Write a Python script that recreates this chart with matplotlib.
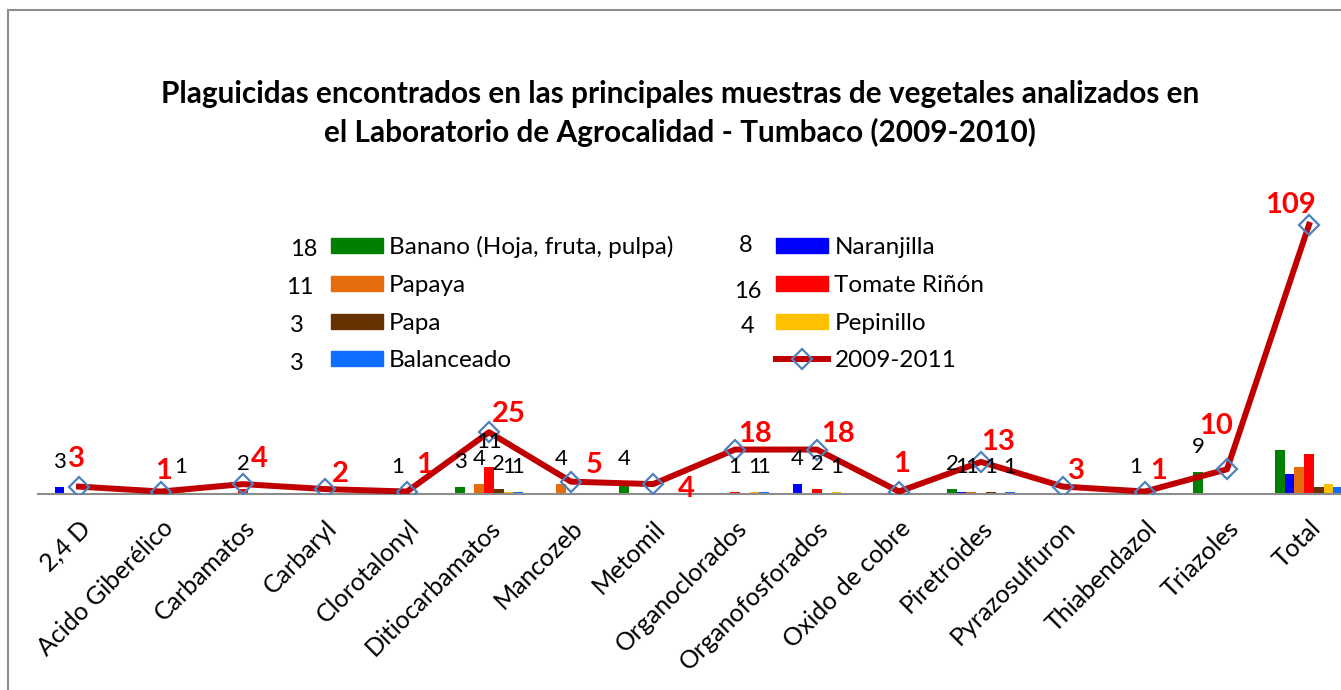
import numpy as np
import matplotlib
matplotlib.use("Agg")
import matplotlib.pyplot as plt
from matplotlib.lines import Line2D
from matplotlib.patches import Patch

plt.rcParams['font.family'] = ['Lato', 'DejaVu Sans']

# =========================
# DATA
# =========================
categorias = ["2,4 D", "Acido Giberélico", "Carbamatos", "Carbaryl", "Clorotalonyl",
              "Ditiocarbamatos", "Mancozeb", "Metomil", "Organoclorados",
              "Organofosforados", "Oxido de cobre", "Piretroides", "Pyrazosulfuron",
              "Thiabendazol", "Triazoles", "Total"]

banano     = [0, 0, 0, 0, 0, 3, 0, 4, 0, 0, 0, 2, 0, 0, 9, 18]
naranjilla = [3, 0, 0, 0, 0, 0, 0, 0, 0, 4, 0, 1, 0, 0, 0, 8]
papaya     = [0, 0, 0, 0, 1, 4, 4, 0, 0, 0, 0, 1, 0, 1, 0, 11]
tomate     = [0, 0, 2, 0, 0, 11, 0, 0, 1, 2, 0, 0, 0, 0, 0, 16]
papa       = [0, 0, 0, 0, 0, 2, 0, 0, 0, 0, 0, 1, 0, 0, 0, 3]
pepinillo  = [0, 1, 0, 0, 0, 1, 0, 0, 1, 1, 0, 0, 0, 0, 0, 4]
balanceado = [0, 0, 0, 0, 0, 1, 0, 0, 1, 0, 0, 1, 0, 0, 0, 3]
serie_2009_2011 = [3, 1, 4, 2, 1, 25, 5, 4, 18, 18, 1, 13, 3, 1, 10, 109]

nombres = ["Banano (Hoja, fruta, pulpa)", "Naranjilla", "Papaya", "Tomate Riñón",
           "Papa", "Pepinillo", "Balanceado"]
series = [banano, naranjilla, papaya, tomate, papa, pepinillo, balanceado]
colores = ["#008000", "#0000FF", "#E46C0A", "#FF0000", "#663300", "#FFC000", "#0F6EFF"]

# stray numbers shown beside the legend entries
legend_counts = {"Banano (Hoja, fruta, pulpa)": 18, "Papaya": 11, "Papa": 3,
                 "Balanceado": 3, "Naranjilla": 8, "Tomate Riñón": 16, "Pepinillo": 4}

# label offsets for the red line labels (points)
red_offsets = [(-1.5, 20), (1.5, 15), (11.5, 18), (11, 11), (13, 19), (14.5, 13),
               (16.5, 12), (24, -3.5), (14.5, 11), (15, 11), (2, 19.5), (12, 14.5),
               (10, 11.5), (9.5, 14.5), (-8, 31), (-13.5, 14.5)]

# =========================
# FIGURE
# =========================
W, H = 1341, 690
fig = plt.figure(figsize=(W/100, H/100), dpi=100)
ax = fig.add_axes([38/W, (H-494)/H, 1312/W, 296.4/H])

x = np.arange(len(categorias))
bw = 0.118
n = len(series)
for i, (vals, col, nom) in enumerate(zip(series, colores, nombres)):
    xs = x + (i - (n-1)/2) * bw
    ax.bar(xs, vals, width=bw, color=col, label=nom, zorder=2)
    for xi, v, cat in zip(xs, vals, categorias):
        if v > 0 and cat != "Total":
            ax.annotate(str(v), (xi, v), xytext=(0, 18), textcoords="offset points",
                        ha="center", va="center", fontsize=16, color="black", zorder=5)

ax.plot(x, serie_2009_2011, color="#C00000", lw=4.3, marker="D", ms=10,
        mfc="none", mec="#4F81BD", mew=1.6, label="2009-2011", zorder=3)
for xi, v, off in zip(x, serie_2009_2011, red_offsets):
    ax.annotate(str(v), (xi, v), xytext=off, textcoords="offset points",
                ha="center", va="center", fontsize=21, fontweight="bold",
                color="#FF0000", zorder=6)

ax.set_xlim(-0.5, len(categorias) - 0.5)
ax.set_ylim(0, 120)
ax.set_xticks(x)
ax.set_xticklabels(categorias, rotation=45, ha="right", rotation_mode="anchor",
                   fontsize=18)
ax.tick_params(axis="x", length=0, pad=16)
ax.set_yticks([])
for s in ["left", "right", "top"]:
    ax.spines[s].set_visible(False)
ax.spines["bottom"].set_color("#8C8C8C")
ax.spines["bottom"].set_linewidth(1.5)
ax.patch.set_visible(False)

# title
fig.text(680/W, 1 - 113.5/H,
         "Plaguicidas encontrados en las principales muestras de vegetales analizados en\n"
         "el Laboratorio de Agrocalidad - Tumbaco (2009-2010)",
         ha="center", va="center", fontsize=21.4, fontweight="bold", linespacing=1.37)

# legend (column-major order)
handles = [Patch(color=c) for c in colores]
orden = [0, 2, 4, 6, 1, 3, 5]
leg_handles = [handles[i] for i in orden] + [
    Line2D([], [], color="#C00000", lw=4.3, marker="D", ms=10, mfc="none",
           mec="#4F81BD", mew=1.6)]
leg_labels = [nombres[i] for i in orden] + ["2009-2011"]
fs = 17.5
fpx = fs * 100 / 72
leg = fig.legend(leg_handles, leg_labels, ncol=2, loc="upper left",
                 bbox_to_anchor=(331/W, 1 - 236/H), frameon=False, fontsize=fs,
                 borderpad=0, borderaxespad=0, handlelength=52/fpx,
                 handleheight=14/fpx, handletextpad=6/fpx, labelspacing=0.69,
                 columnspacing=103/fpx)

num_pos = {"Banano (Hoja, fruta, pulpa)": (304, 249), "Papaya": (300, 288),
           "Papa": (297, 326), "Balanceado": (297, 364),
           "Naranjilla": (746, 246), "Tomate Riñón": (748, 292), "Pepinillo": (748, 327)}
for nom, cnt in legend_counts.items():
    px, py = num_pos[nom]
    fig.text(px/W, 1 - py/H, str(cnt), ha="center", va="center", fontsize=17)

# chart area border
bc = "#8C8C8C"
fig.add_artist(Line2D([8/W, 8/W], [0, 1 - 10/H], transform=fig.transFigure,
                      color=bc, lw=1.5))
fig.add_artist(Line2D([8/W, 1], [1 - 10/H, 1 - 10/H], transform=fig.transFigure,
                      color=bc, lw=1.5))

fig.savefig("out.png", dpi=100)
